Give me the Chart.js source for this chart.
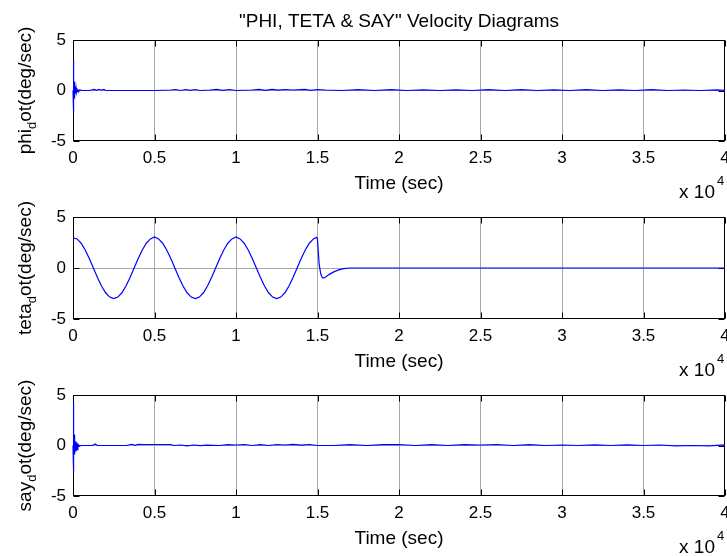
<!DOCTYPE html>
<html>
<head>
<meta charset="utf-8">
<title>PHI, TETA & SAY Velocity Diagrams</title>
<script src="https://cdn.jsdelivr.net/npm/chart.js@4.4.1/dist/chart.umd.min.js"></script>
<style>
    html, body { margin: 0; padding: 0; background: #fff; }
    #fig { position: relative; width: 727px; height: 556px; overflow: hidden; background: #fff; }
    #fig canvas { position: absolute; left: 0; }
</style>
</head>
<body>
<div id="fig">
    <canvas id="phiChart" width="727" height="210" style="top:0px"></canvas>
    <canvas id="tetaChart" width="727" height="200" style="top:190px"></canvas>
    <canvas id="sayChart" width="727" height="186" style="top:370px"></canvas>
</div>
<script>
// Time axis is in units of 10^4 sec
const xTicks = [0, 0.5, 1, 1.5, 2, 2.5, 3, 3.5, 4];
const yTicks = [-5, 0, 5];

// phi dot
const phiTime = [0, 0.001, 0.002, 0.003, 0.004, 0.005, 0.006, 0.007, 0.008, 0.01, 0.012, 0.014, 0.016, 0.019, 0.022, 0.026, 0.03, 0.04, 0.06,
    0.1, 0.13, 0.145, 0.16, 0.175, 0.19, 0.2, 0.5, 0.6, 0.63, 0.66, 0.69, 0.72, 0.75, 0.78, 0.84, 0.88, 0.92, 0.96, 1.0,
    1.1, 1.14, 1.18, 1.22, 1.26, 1.3, 1.35, 1.42, 1.46, 1.5, 1.55, 1.65, 1.75, 1.85, 1.95, 2.05, 2.15, 2.25, 2.35, 2.45,
    2.55, 2.65, 2.75, 2.85, 2.95, 3.05, 3.15, 3.25, 3.35, 3.45, 3.55, 3.65, 3.75, 3.85, 3.95, 4.0];
const phiDot = [0, 3.0, -2.1, 1.8, -1.6, 1.2, -1.1, 0.9, -0.8, 0.6, -0.5, 0.4, -0.3, 0.25, -0.15, 0.1, -0.05, 0.05, 0,
    0, 0.1, 0.02, 0.12, 0.03, 0.1, 0, 0, 0.05, 0.1, 0, 0.1, 0.02, 0.1, 0, 0.05, 0.12, 0.02, 0.1, 0,
    0.05, 0.12, 0.02, 0.12, 0.03, 0.1, 0.05, 0.12, 0.02, 0.1, 0.05, 0, 0.08, 0, 0.08, 0, 0.07, 0, 0.07, 0,
    0.08, 0, 0.08, 0, 0.07, 0, 0.08, 0, 0.07, 0, 0.08, 0, 0.05, 0, 0.07, 0.02];

// teta dot
const tetaTime = [0, 0.025, 0.05, 0.075, 0.1, 0.125, 0.15, 0.175, 0.2, 0.225,
    0.25, 0.275, 0.3, 0.325, 0.35, 0.375, 0.4, 0.425, 0.45, 0.475,
    0.5, 0.525, 0.55, 0.575, 0.6, 0.625, 0.65, 0.675, 0.7, 0.725,
    0.75, 0.775, 0.8, 0.825, 0.85, 0.875, 0.9, 0.925, 0.95, 0.975,
    1.0, 1.025, 1.05, 1.075, 1.1, 1.125, 1.15, 1.175, 1.2, 1.225,
    1.25, 1.275, 1.3, 1.325, 1.35, 1.375, 1.4, 1.425, 1.45, 1.475,
    1.495, 1.5, 1.505, 1.51, 1.52, 1.53, 1.54, 1.55, 1.57, 1.6, 1.63, 1.66, 1.7, 4.0];
const tetaDot = [2.95, 2.85, 2.43, 1.76, 0.93, 0, -0.93, -1.76, -2.43, -2.85,
    -3.0, -2.85, -2.43, -1.76, -0.93, 0, 0.93, 1.76, 2.43, 2.85,
    3.05, 2.85, 2.43, 1.76, 0.93, 0, -0.93, -1.76, -2.43, -2.85,
    -3.0, -2.85, -2.43, -1.76, -0.93, 0, 0.93, 1.76, 2.43, 2.85,
    3.05, 2.85, 2.43, 1.76, 0.93, 0, -0.93, -1.76, -2.43, -2.85,
    -3.0, -2.85, -2.43, -1.76, -0.93, 0, 0.93, 1.76, 2.43, 2.85,
    3.0, 2.8, 1.6, 0.4, -0.6, -0.95, -0.97, -0.88, -0.65, -0.38, -0.18, -0.06, 0, 0];

// say dot
const sayTime = [0, 0.001, 0.002, 0.003, 0.004, 0.005, 0.006, 0.007, 0.008, 0.01, 0.012, 0.015, 0.018, 0.022, 0.026, 0.03, 0.04, 0.05,
    0.12, 0.135, 0.15, 0.33, 0.36, 0.38, 0.4, 0.43, 0.6, 0.62, 0.66, 0.7, 0.74, 0.78, 0.82, 0.9, 0.95, 1.0,
    1.05, 1.1, 1.15, 1.2, 1.25, 1.3, 1.35, 1.4, 1.45, 1.5, 1.6, 1.7, 1.8, 1.9, 2.0, 2.1, 2.2, 2.3, 2.4, 2.5,
    2.6, 2.7, 2.8, 2.9, 3.0, 3.1, 3.2, 3.3, 3.4, 3.5, 3.6, 3.7, 3.8, 3.9, 4.0];
const sayDot = [0, 4.3, -2.6, 1.7, -1.1, 1.5, -1.0, 1.1, -0.9, 0.8, -0.7, 0.4, -0.6, 0.3, -0.4, 0.1, -0.05, 0,
    0, 0.15, 0, 0, 0.12, 0.02, 0.12, 0.1, 0.1, 0, 0.05, -0.03, 0.05, -0.02, 0.04, 0, 0.08, 0.05,
    0.1, 0, 0.08, 0, 0.1, 0.05, 0.12, 0.03, 0.1, 0, 0, 0.08, 0, 0.08, 0.1, 0, 0.08, 0, 0.08, 0.05,
    0.1, 0, 0.08, 0, 0.05, 0, 0.07, 0, 0.07, 0, 0.05, -0.03, 0, -0.03, 0.07];

const FONT = '"Liberation Sans", Arial, Helvetica, sans-serif';

// matlab-ish axes: box + inner ticks under the data, labels on top
const matlabAxes = {
    id: 'matlabAxes',
    beforeDatasetsDraw(chart) {
        const ctx = chart.ctx;
        const a = chart.chartArea;
        const xs = chart.scales.x, ys = chart.scales.y;
        const L = Math.round(a.left) + 0.5, R = Math.round(a.right) - 0.5;
        const T = Math.round(a.top) + 0.5, B = Math.round(a.bottom) - 0.5;
        ctx.save();
        ctx.strokeStyle = '#000';
        ctx.lineWidth = 1;
        ctx.beginPath();
        xs.ticks.forEach(t => {
            const px = Math.round(xs.getPixelForValue(t.value)) + 0.5;
            ctx.moveTo(px, B); ctx.lineTo(px, B - 6);
            ctx.moveTo(px, T); ctx.lineTo(px, T + 6);
        });
        ys.ticks.forEach(t => {
            const py = Math.round(ys.getPixelForValue(t.value)) + 0.5;
            ctx.moveTo(L, py); ctx.lineTo(L + 6, py);
            ctx.moveTo(R, py); ctx.lineTo(R - 6, py);
        });
        ctx.stroke();
        ctx.strokeRect(L, T, R - L, B - T);
        ctx.restore();
    },
    afterDraw(chart, args, opts) {
        const ctx = chart.ctx;
        const a = chart.chartArea;
        ctx.save();
        ctx.fillStyle = '#000';
        const cx = (a.left + a.right) / 2;
        // xlabel
        ctx.font = '19px ' + FONT;
        ctx.textAlign = 'center';
        ctx.textBaseline = 'alphabetic';
        ctx.fillText('Time (sec)', cx, a.bottom + 48);
        // x 10^4
        ctx.textAlign = 'right';
        ctx.fillText('x 10', 715, a.bottom + 57);
        ctx.font = '13px ' + FONT;
        ctx.textAlign = 'left';
        ctx.fillText('4', 717, a.bottom + 44);
        // title
        if (opts.title) {
            ctx.font = '19px ' + FONT;
            ctx.textAlign = 'center';
            ctx.fillText(opts.title, cx, 27);
        }
        // ylabel with subscript
        const parts = opts.ylabel;
        ctx.translate(31, (a.top + a.bottom) / 2);
        ctx.rotate(-Math.PI / 2);
        ctx.textAlign = 'left';
        ctx.font = '19px ' + FONT;
        const w1 = ctx.measureText(parts[0]).width;
        const w3 = ctx.measureText(parts[2]).width;
        ctx.font = '13px ' + FONT;
        const w2 = ctx.measureText(parts[1]).width;
        let x0 = -(w1 + w2 + w3) / 2;
        ctx.font = '19px ' + FONT;
        ctx.fillText(parts[0], x0, 0);
        ctx.font = '13px ' + FONT;
        ctx.fillText(parts[1], x0 + w1, 5);
        ctx.font = '19px ' + FONT;
        ctx.fillText(parts[2], x0 + w1 + w2, 0);
        ctx.restore();
    }
};

function makeChart(id, times, values, areaTop, areaBottom, ylabel, title) {
    const canvas = document.getElementById(id);
    const H = canvas.height;
    return new Chart(canvas, {
        type: 'line',
        data: {
            datasets: [{
                data: times.map((t, i) => ({ x: t, y: values[i] })),
                borderColor: '#0000ff',
                borderWidth: 1.2,
                pointRadius: 0,
                tension: 0,
                fill: false,
                clip: 2
            }]
        },
        options: {
            responsive: false,
            animation: false,
            devicePixelRatio: 1,
            layout: { padding: { top: areaTop, left: 0, right: 2, bottom: 0 } },
            plugins: {
                legend: { display: false },
                tooltip: { enabled: false },
                matlabAxes: { ylabel: ylabel, title: title }
            },
            scales: {
                x: {
                    type: 'linear',
                    min: 0, max: 4,
                    afterBuildTicks: s => { s.ticks = xTicks.map(v => ({ value: v })); },
                    ticks: {
                        color: '#000', font: { family: FONT, size: 17 }, padding: 7, maxRotation: 0,
                        callback: v => String(v)
                    },
                    grid: {
                        drawTicks: false,
                        lineWidth: 1,
                        color: c => (c.tick && c.tick.value > 0 && c.tick.value < 4) ? '#a8a8a8' : 'rgba(0,0,0,0)'
                    },
                    border: { display: false },
                    afterFit: s => { s.height = H - areaBottom; s.paddingLeft = 0; s.paddingRight = 0; }
                },
                y: {
                    min: -5, max: 5,
                    afterBuildTicks: s => { s.ticks = yTicks.map(v => ({ value: v })); },
                    ticks: { color: '#000', font: { family: FONT, size: 17 }, padding: 7, callback: v => String(v) },
                    grid: {
                        drawTicks: false,
                        lineWidth: 1,
                        color: c => (c.tick && c.tick.value === 0) ? '#a8a8a8' : 'rgba(0,0,0,0)'
                    },
                    border: { display: false },
                    afterFit: s => { s.width = 73; s.paddingTop = 0; s.paddingBottom = 0; }
                }
            }
        },
        plugins: [matlabAxes]
    });
}

makeChart('phiChart', phiTime, phiDot, 40, 141, ['phi', 'd', 'ot(deg/sec)'], '"PHI, TETA & SAY" Velocity Diagrams');
makeChart('tetaChart', tetaTime, tetaDot, 27, 129, ['teta', 'd', 'ot(deg/sec)']);
makeChart('sayChart', sayTime, sayDot, 25, 126, ['say', 'd', 'ot(deg/sec)']);
</script>
</body>
</html>
